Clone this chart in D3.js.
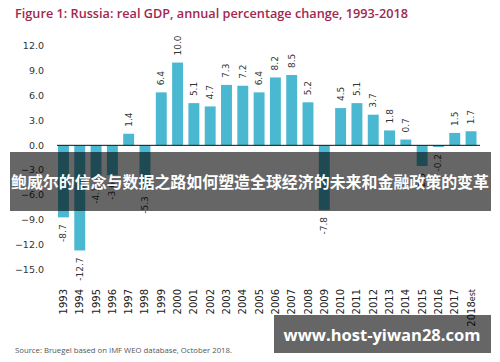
<!DOCTYPE html>
<html lang="en">
  <head>
    <meta charset="UTF-8" />
    <title>Russia real GDP</title>
    <script src="https://d3js.org/d3.v7.min.js"></script>
    <style>
      body { margin: 0; background: #fff; }
      svg { display: block; }
    </style>
  </head>
  <body>
    <div id="chart"></div>
    <script>
      // data
      const years = ["1993","1994","1995","1996","1997","1998","1999","2000","2001","2002","2003","2004","2005",
        "2006","2007","2008","2009","2010","2011","2012","2013","2014","2015","2016","2017","2018"];
      const growth = [-8.7,-12.7,-4.1,-3.6,1.4,-5.3,6.4,10.0,5.1,4.7,7.3,7.2,6.4,
        8.2,8.5,5.2,-7.8,4.5,5.1,3.7,1.8,0.7,-2.5,-0.2,1.5,1.7];
      const yTicks = [-15,-12,-9,-6,-3,0,3,6,9,12];

      const width = 500, height = 362;
      const svg = d3.select("#chart").append("svg")
        .attr("width", width).attr("height", height);

      const x = d3.scaleBand().domain(years).range([55.3, 479.2])
        .paddingInner(0.33).paddingOuter(0.165);
      const y = d3.scaleLinear().domain([-15, 12]).range([269.5, 46]);

      // title
      svg.append("text")
        .attr("x", 15).attr("y", 18)
        .attr("fill", "#a3264f")
        .attr("font-family", "Open Sans, sans-serif")
        .attr("font-weight", 600)
        .attr("font-size", 13)
        .attr("textLength", 393).attr("lengthAdjust", "spacingAndGlyphs")
        .text("Figure 1: Russia: real GDP, annual percentage change, 1993-2018");

      // y labels (no axis line)
      svg.append("g").selectAll("text").data(yTicks).enter().append("text")
        .attr("x", 44).attr("y", d => y(d)).attr("dy", "0.35em")
        .attr("text-anchor", "end")
        .attr("font-family", "DejaVu Sans, sans-serif").attr("font-size", 9.5)
        .attr("fill", "#333")
        .text(d3.format(".1f"));

      // bars
      svg.append("g").selectAll("rect").data(growth).enter().append("rect")
        .attr("x", (d, i) => x(years[i]))
        .attr("width", x.bandwidth())
        .attr("y", d => y(Math.max(0, d)))
        .attr("height", d => Math.abs(y(d) - y(0)))
        .attr("fill", "#4bb8d1");

      // value labels
      svg.append("g").selectAll("text").data(growth).enter().append("text")
        .attr("transform", (d, i) => {
          const cx = x(years[i]) + x.bandwidth() / 2 + 3;
          const cy = d >= 0 ? y(d) - 7 : y(d) + 7;
          return `translate(${cx},${cy}) rotate(-90)`;
        })
        .attr("text-anchor", d => d >= 0 ? "start" : "end")
        .attr("font-family", "DejaVu Sans, sans-serif").attr("font-size", 9)
        .attr("fill", "#333")
        .text(d => d.toFixed(1));

      // zero line
      svg.append("line")
        .attr("x1", 57).attr("x2", 480)
        .attr("y1", y(0)).attr("y2", y(0))
        .attr("stroke", "#111").attr("stroke-width", 1);

      // year labels
      const yl = svg.append("g").selectAll("text").data(years).enter().append("text")
        .attr("transform", d => `translate(${x(d) + x.bandwidth() / 2 + 3.5},289) rotate(-90)`)
        .attr("text-anchor", "end")
        .attr("font-family", "DejaVu Sans, sans-serif").attr("font-size", 10)
        .attr("fill", "#222")
        .text(d => d);
      yl.filter(d => d === "2018").append("tspan").attr("font-size", 8).text("est");

      // source
      svg.append("text")
        .attr("x", 15).attr("y", 353)
        .attr("fill", "#555")
        .attr("font-family", "Open Sans, sans-serif").attr("font-size", 7.5)
        .attr("textLength", 217).attr("lengthAdjust", "spacingAndGlyphs")
        .text("Source: Bruegel based on IMF WEO database, October 2018.");

      // overlay banner
      svg.append("rect")
        .attr("x", 10).attr("y", 152).attr("width", 481).attr("height", 59)
        .attr("fill", "rgba(0,0,0,0.6)");
      svg.append("text")
        .attr("x", 250).attr("y", 182).attr("dy", "0.35em")
        .attr("text-anchor", "middle")
        .attr("fill", "#fff")
        .attr("font-family", "Noto Sans CJK SC, sans-serif").attr("font-weight", 700)
        .attr("font-size", 16)
        .attr("textLength", 478).attr("lengthAdjust", "spacingAndGlyphs")
        .text("鲍威尔的信念与数据之路如何塑造全球经济的未来和金融政策的变革");

      // watermark box
      svg.append("rect")
        .attr("x", 274).attr("y", 315).attr("width", 217).attr("height", 38)
        .attr("fill", "rgba(0,0,0,0.6)");
      svg.append("text")
        .attr("x", 382).attr("y", 335).attr("dy", "0.35em")
        .attr("text-anchor", "middle")
        .attr("fill", "#fff")
        .attr("font-family", "Open Sans, sans-serif").attr("font-weight", 700)
        .attr("font-size", 16)
        .attr("textLength", 197).attr("lengthAdjust", "spacingAndGlyphs")
        .text("www.host-yiwan28.com");
    </script>
  </body>
</html>
